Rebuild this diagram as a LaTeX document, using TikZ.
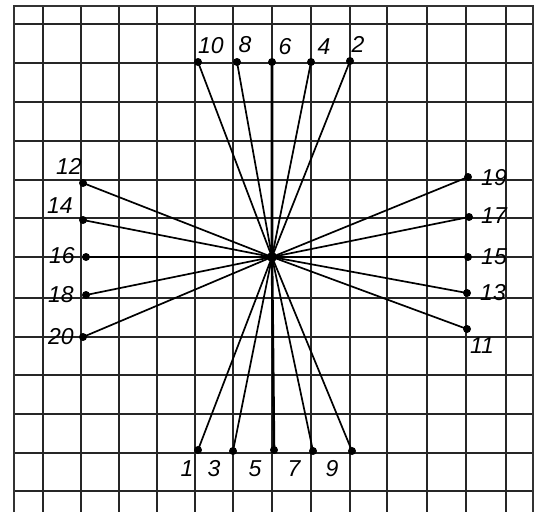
\documentclass[tikz,border=0pt]{standalone}
\usepackage{fontspec}
\newfontfamily\handfont{Liberation Sans}
\begin{document}
\begin{tikzpicture}[x=1pt,y=-1pt,
  gridline/.style={line width=2.2pt, black!85, line cap=butt},
  frame/.style={line width=1.6pt, black!80},
  ray/.style={line width=1.7pt, black},
  dot/.style={circle, fill=black, inner sep=0pt, minimum size=8pt},
  lab/.style={font=\handfont\fontsize{23}{23}\selectfont\itshape, inner sep=0pt}]
\useasboundingbox (0,0) rectangle (541,512);
\fill[white] (0,0) rectangle (541,512);
% grid
\foreach \x in {43,81,119,157,195,233,272,311,350,387,427,466,506}
  \draw[gridline] (\x,6) -- (\x,512);
\foreach \y in {24,63,102,141,180,218,257,298,337,375,414,453,491}
  \draw[gridline] (14,\y) -- (533,\y);
\draw[frame] (14,512) -- (14,6) -- (533,6) -- (533,512);
% centre
\coordinate (c) at (272,257);
% points
\node[dot] (p10) at (198,62) {};
\node[dot] (p8)  at (237,62) {};
\node[dot] (p6)  at (272,62) {};
\node[dot] (p4)  at (311,62) {};
\node[dot] (p2)  at (350,61) {};
\node[dot] (p1)  at (198,450) {};
\node[dot] (p3)  at (233,451) {};
\node[dot] (p5)  at (274,450) {};
\node[dot] (p7)  at (313,451) {};
\node[dot] (p9)  at (352,451) {};
\node[dot] (p12) at (83,183) {};
\node[dot] (p14) at (83,220) {};
\node[dot] (p16) at (86,257) {};
\node[dot] (p18) at (86,295) {};
\node[dot] (p20) at (83,337) {};
\node[dot] (p19) at (468,177) {};
\node[dot] (p17) at (469,217) {};
\node[dot] (p15) at (468,257) {};
\node[dot] (p13) at (467,293) {};
\node[dot] (p11) at (467,329) {};
% rays
\foreach \p in {p10,p8,p4,p2,p1,p3,p7,p9,p12,p14,p18,p20,p19,p17,p13,p11}
  \draw[ray] (c) -- (\p.center);
\draw[ray, line width=2.6pt] (p6.center) -- (c) -- (p5.center);
\draw[ray, line width=2.4pt] (p16.center) -- (c) -- (p15.center);
\node[dot, minimum size=10pt] (cd) at (c) {};
% labels
\node[lab] (l10) at (211,46) {10};
\node[lab] (l8)  at (245,45) {8};
\node[lab] (l6)  at (285,47) {6};
\node[lab] (l4)  at (324,47) {4};
\node[lab] (l2)  at (358,44) {2};
\node[lab] (l1)  at (187,469) {1};
\node[lab] (l3)  at (214,469) {3};
\node[lab] (l5)  at (255,469) {5};
\node[lab] (l7)  at (294,469) {7};
\node[lab] (l9)  at (332,469) {9};
\node[lab] (l12) at (69,166) {12};
\node[lab] (l14) at (60,206) {14};
\node[lab] (l16) at (62,256) {16};
\node[lab] (l18) at (61,295) {18};
\node[lab] (l20) at (61,337) {20};
\node[lab] (l19) at (494,178) {19};
\node[lab] (l17) at (494,216) {17};
\node[lab] (l15) at (494,257) {15};
\node[lab] (l13) at (493,293) {13};
\node[lab] (l11) at (482,346) {11};
\end{tikzpicture}
\end{document}
